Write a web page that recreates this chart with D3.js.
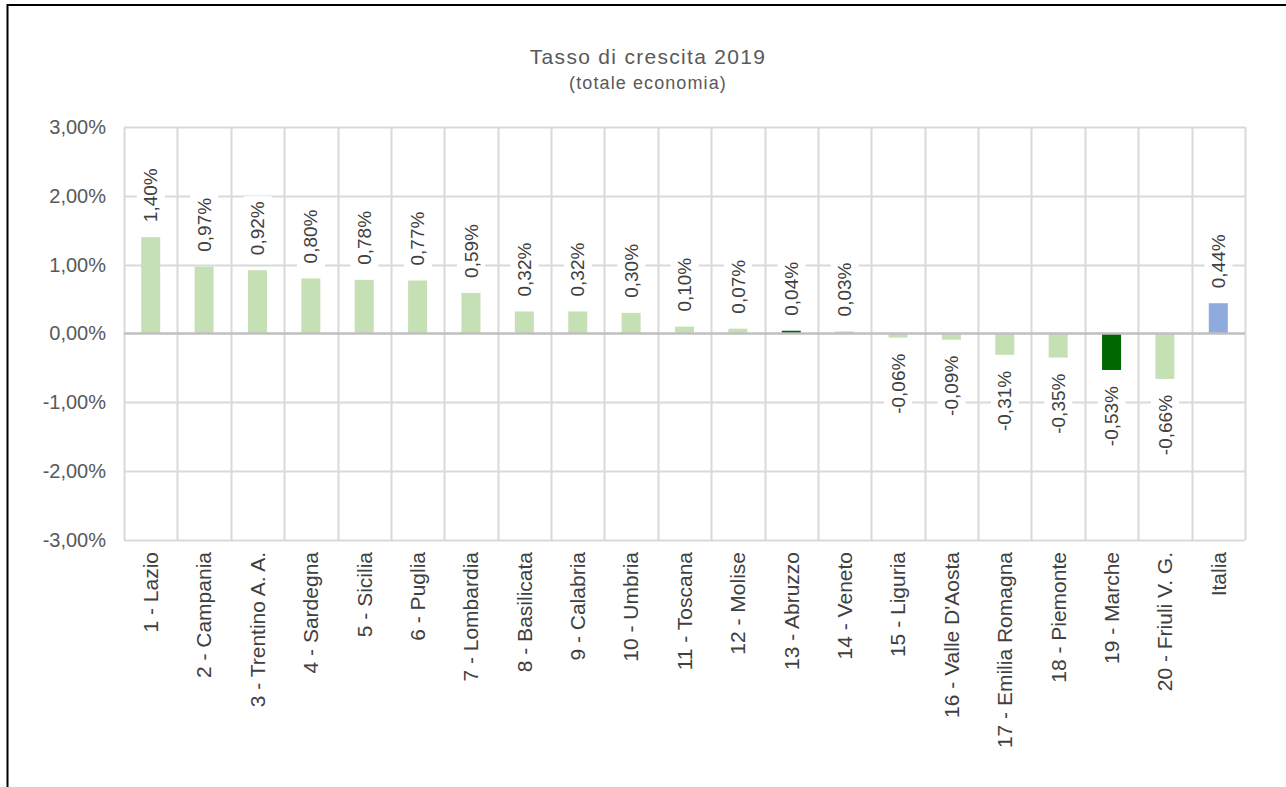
<!DOCTYPE html>
<html>
<head>
<meta charset="utf-8">
<script src="https://cdn.jsdelivr.net/npm/d3@7/dist/d3.min.js"></script>
<style>
  html, body { margin: 0; padding: 0; background: #fff; }
  svg { display: block; font-family: "Liberation Sans", Arial, sans-serif; }
</style>
</head>
<body>
<svg id="chart" width="1286" height="787"></svg>
<script>
// Regional growth rates 2019 (% change, total economy)
const regions = [
  "1 - Lazio", "2 - Campania", "3 - Trentino A. A.", "4 - Sardegna", "5 - Sicilia",
  "6 - Puglia", "7 - Lombardia", "8 - Basilicata", "9 - Calabria", "10 - Umbria",
  "11 - Toscana", "12 - Molise", "13 - Abruzzo", "14 - Veneto", "15 - Liguria",
  "16 - Valle D'Aosta", "17 - Emilia Romagna", "18 - Piemonte", "19 - Marche",
  "20 - Friuli V. G.", "Italia"
];
const growth = [
  1.40, 0.97, 0.92, 0.80, 0.78,
  0.77, 0.59, 0.32, 0.32, 0.30,
  0.10, 0.07, 0.04, 0.03, -0.06,
  -0.09, -0.31, -0.35, -0.53,
  -0.66, 0.44
];
// highlight group: "base" regions, "focus" regions, "total" for the national figure
const group = [
  "base", "base", "base", "base", "base",
  "base", "base", "base", "base", "base",
  "base", "base", "focus", "base", "base",
  "base", "base", "base", "focus",
  "base", "total"
];
const yTicks = [3, 2, 1, 0, -1, -2, -3];
const chartTitle = "Tasso di crescita 2019";
const chartSubtitle = "(totale economia)";

const colors = { base: "#c5e0b4", focus: "#006600", total: "#8faadc" };

const svg = d3.select("#chart");
const W = 1286, H = 787;
const plot = { left: 124, right: 1245, top: 127, bottom: 540 };

// outer frame (left and top edges)
svg.append("line").attr("x1", 7.5).attr("x2", 7.5).attr("y1", 4).attr("y2", H)
  .attr("stroke", "#000").attr("stroke-width", 2);
svg.append("line").attr("x1", 7).attr("x2", W).attr("y1", 5).attr("y2", 5)
  .attr("stroke", "#000").attr("stroke-width", 2);

// titles
svg.append("text").attr("x", 648).attr("y", 64).attr("text-anchor", "middle")
  .attr("font-size", 21).attr("letter-spacing", 1.3).attr("fill", "#595959").text(chartTitle);
svg.append("text").attr("x", 648).attr("y", 89).attr("text-anchor", "middle")
  .attr("font-size", 18).attr("letter-spacing", 1.1).attr("fill", "#595959").text(chartSubtitle);

const x = d3.scaleBand().domain(regions).range([plot.left, plot.right]).paddingInner(0).paddingOuter(0);
const y = d3.scaleLinear().domain([-3, 3]).range([plot.bottom, plot.top]);
const fmt = v => d3.format(".2f")(v).replace(".", ",").replace("\u2212", "-") + "%";

// horizontal gridlines
svg.append("g").selectAll("line").data(yTicks.filter(t => t !== 0)).join("line")
  .attr("x1", plot.left).attr("x2", plot.right)
  .attr("y1", d => Math.round(y(d)) + 0.5).attr("y2", d => Math.round(y(d)) + 0.5)
  .attr("stroke", "#d9d9d9").attr("stroke-width", 2);

// vertical gridlines at category boundaries
const bounds = regions.map(r => x(r)).concat([plot.right]);
svg.append("g").selectAll("line").data(bounds).join("line")
  .attr("x1", d => Math.round(d) + 0.5).attr("x2", d => Math.round(d) + 0.5)
  .attr("y1", plot.top).attr("y2", plot.bottom)
  .attr("stroke", "#d9d9d9").attr("stroke-width", 2);

// y-axis tick labels
const yAxis = d3.axisLeft(y).tickValues(yTicks).tickSize(0).tickPadding(0)
  .tickFormat(d => fmt(d));
const yg = svg.append("g").attr("transform", `translate(${plot.left - 18},0)`).call(yAxis);
yg.select(".domain").remove();
yg.selectAll("text").attr("font-size", 20).attr("fill", "#595959")
  .attr("font-family", "Liberation Sans, Arial, sans-serif");

// bars
const bw = 19;
const data = regions.map((r, i) => ({ r, v: growth[i], g: group[i] }));
svg.append("g").selectAll("rect").data(data).join("rect")
  .attr("x", d => x(d.r) + x.bandwidth() / 2 - bw / 2)
  .attr("width", bw)
  .attr("y", d => Math.min(y(d.v), y(0)))
  .attr("height", d => Math.abs(y(d.v) - y(0)))
  .attr("fill", d => colors[d.g]);

// zero line
svg.append("line").attr("x1", plot.left).attr("x2", plot.right)
  .attr("y1", y(0)).attr("y2", y(0)).attr("stroke", "#bfbfbf").attr("stroke-width", 2.5);

// value labels, rotated, with a white backing box
const lab = svg.append("g").selectAll("g").data(data).join("g")
  .attr("transform", d => {
    const cx = x(d.r) + x.bandwidth() / 2;
    const cy = d.v >= 0 ? y(d.v) - 15 : y(d.v) + 16;
    return `translate(${cx},${cy}) rotate(-90)`;
  });
lab.append("text")
  .attr("text-anchor", d => d.v >= 0 ? "start" : "end")
  .attr("dy", "0.35em")
  .attr("font-size", 19).attr("fill", "#404040")
  .text(d => fmt(d.v))
  .each(function () {
    const b = this.getBBox();
    d3.select(this.parentNode).insert("rect", "text")
      .attr("x", b.x - 5).attr("y", b.y - 3.5)
      .attr("width", b.width + 10).attr("height", b.height + 7)
      .attr("fill", "#fff");
  });

// category labels
svg.append("g").selectAll("text").data(regions).join("text")
  .attr("transform", d => `translate(${x(d) + x.bandwidth() / 2},${plot.bottom + 12}) rotate(-90)`)
  .attr("text-anchor", "end").attr("dy", "0.35em")
  .attr("font-size", 21).attr("fill", "#404040")
  .text(d => d);
</script>
</body>
</html>
